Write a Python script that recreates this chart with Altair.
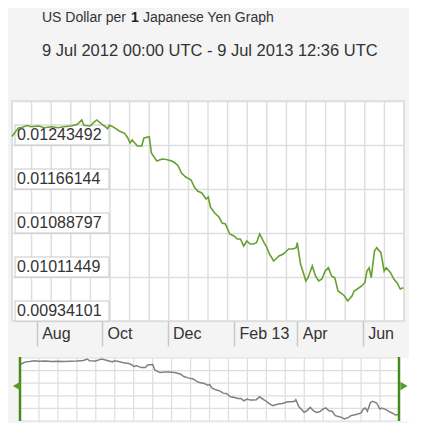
import altair as alt
import pandas as pd

# ---------------- text ----------------
title_prefix = "US Dollar per"
title_bold = "1"
title_suffix = "Japanese Yen Graph"
subtitle = "9 Jul 2012 00:00 UTC - 9 Jul 2013 12:36 UTC"

# ---------------- data ----------------
dates = [
    "2012-07-09", "2012-07-12", "2012-07-15", "2012-07-18", "2012-07-23", "2012-07-27",
    "2012-08-03", "2012-08-08", "2012-08-15", "2012-08-21", "2012-08-26", "2012-09-02",
    "2012-09-08", "2012-09-12", "2012-09-14", "2012-09-20", "2012-09-23", "2012-09-26",
    "2012-10-01", "2012-10-04", "2012-10-06", "2012-10-08", "2012-10-11", "2012-10-17",
    "2012-10-22", "2012-10-25", "2012-10-27", "2012-10-29", "2012-11-03", "2012-11-07",
    "2012-11-09", "2012-11-14", "2012-11-16", "2012-11-21", "2012-11-26", "2012-11-30",
    "2012-12-05", "2012-12-08", "2012-12-11", "2012-12-14", "2012-12-18", "2012-12-23",
    "2012-12-26", "2012-12-29", "2013-01-02", "2013-01-06", "2013-01-08", "2013-01-10",
    "2013-01-14", "2013-01-18", "2013-01-21", "2013-01-24", "2013-01-28", "2013-02-01",
    "2013-02-04", "2013-02-07", "2013-02-10", "2013-02-13", "2013-02-16", "2013-02-19",
    "2013-02-22", "2013-02-25", "2013-03-01", "2013-03-03", "2013-03-06", "2013-03-10",
    "2013-03-12", "2013-03-15", "2013-03-19", "2013-03-22", "2013-03-24", "2013-03-28",
    "2013-03-31", "2013-04-01", "2013-04-04", "2013-04-07", "2013-04-09", "2013-04-11",
    "2013-04-15", "2013-04-18", "2013-04-21", "2013-04-24", "2013-04-27", "2013-04-30",
    "2013-05-03", "2013-05-06", "2013-05-09", "2013-05-13", "2013-05-15", "2013-05-18",
    "2013-05-22", "2013-05-24", "2013-05-27", "2013-05-31", "2013-06-03", "2013-06-05",
    "2013-06-07", "2013-06-09", "2013-06-12", "2013-06-14", "2013-06-18", "2013-06-21",
    "2013-06-23", "2013-06-27", "2013-06-30", "2013-07-03", "2013-07-06", "2013-07-09",
]
rates = [
    0.0125844, 0.0126635, 0.0127338, 0.0127426, 0.0127777, 0.0127566,
    0.0127689, 0.0127391, 0.0127566, 0.0127391, 0.0127566, 0.0127689,
    0.0127988, 0.0128744, 0.0127813, 0.0127689, 0.0128270, 0.0128744,
    0.0127988, 0.0127566, 0.0127215, 0.0127813, 0.0127566, 0.0126810,
    0.0126406, 0.0125580, 0.0124701, 0.0125228, 0.0124173, 0.0124173,
    0.0125580, 0.0125808, 0.0122943, 0.0121536, 0.0121888, 0.0121800,
    0.0121536, 0.0121185, 0.0120657, 0.0119427, 0.0118724, 0.0118196,
    0.0116966, 0.0116262, 0.0115911, 0.0114856, 0.0115208, 0.0113450,
    0.0112395, 0.0111692, 0.0110637, 0.0110461, 0.0108703, 0.0108351,
    0.0107824, 0.0107824, 0.0106593, 0.0107472, 0.0106945, 0.0106945,
    0.0107174, 0.0108703, 0.0107174, 0.0106593, 0.0105187, 0.0103956,
    0.0104308, 0.0104835, 0.0105187, 0.0105714, 0.0106066, 0.0106066,
    0.0106295, 0.0107174, 0.0103429, 0.0101671, 0.0100440, 0.0101021,
    0.0103077, 0.0101319, 0.0100440, 0.0100792, 0.0102198, 0.0102778,
    0.0101319, 0.0101021, 0.0098682, 0.0098155, 0.0097803, 0.0096924,
    0.0097803, 0.0098682, 0.0099034, 0.0099561, 0.0100141, 0.0102198,
    0.0102778, 0.0101021, 0.0105714, 0.0106295, 0.0105416, 0.0102198,
    0.0102778, 0.0101899, 0.0100792, 0.0100141, 0.0099034, 0.0099262,
]
y_ticks = [0.00934101, 0.01011449, 0.01088797, 0.01166144, 0.01243492]
y_top = 0.01320840
x_ticks = ["2012-08-01", "2012-10-01", "2012-12-01", "2013-02-01", "2013-04-01", "2013-06-01"]
x_start = "2012-07-09T00:00:00"
x_end = "2013-07-09T12:36:00"


def ms(s):
    return int(pd.Timestamp(s, tz="UTC").value // 10**6)


# ---------------- layout / style ----------------
W, H = 392, 220
FONT = "Liberation Sans"
TEXT = "#333333"
GRID = "#dedede"
GREEN = "#67a030"
DKGREEN = "#4a8a1c"
NAV_TOP, NAV_BOT = 257, 320
NAV_L, NAV_R, NAV_BG_R = 8, 387, 397

df = pd.DataFrame({"date": dates, "rate": rates})
tick_df = pd.DataFrame({"v": y_ticks})
grid_df = pd.DataFrame({"i": list(range(21))})
hgrid_df = pd.DataFrame({"j": list(range(6))})
one = pd.DataFrame({"k": [0]})

x_dom = [ms(x_start), ms(x_end)]
y_dom = [y_ticks[0], y_top]
box_h = (y_top - y_ticks[0]) / H * 20

yscale = alt.Scale(domain=y_dom, nice=False, zero=False)

vgrid = alt.Chart(grid_df).mark_rule(color=GRID, strokeWidth=1.5).encode(
    x=alt.X("i:Q", scale=alt.Scale(domain=[0, 20], nice=False, zero=False), axis=None),
    y=alt.value(0),
    y2=alt.value(H),
)

boxes = (
    alt.Chart(tick_df)
    .transform_calculate(top=f"datum.v + {box_h}")
    .mark_rect(fill="white", stroke="#c8c8c8", strokeWidth=1)
    .encode(
        x=alt.value(3),
        x2=alt.value(97),
        y=alt.Y("v:Q", scale=yscale, axis=None),
        y2="top:Q",
    )
)

labels = alt.Chart(tick_df).mark_text(
    align="left", baseline="middle", dy=-10, fontSize=16, font=FONT, color=TEXT
).encode(
    x=alt.value(5),
    y=alt.Y("v:Q", scale=yscale, axis=None),
    text=alt.Text("v:Q", format=".8f"),
)

line = alt.Chart(df).mark_line(color=GREEN, strokeWidth=1.6).encode(
    x=alt.X(
        "date:T",
        scale=alt.Scale(type="utc", domain=x_dom, nice=False),
        axis=alt.Axis(
            values=[ms(t) for t in x_ticks],
            labelExpr="utcFormat(datum.value, utcmonth(datum.value) == 1 ? '%b %y' : '%b')",
            title=None,
            grid=False,
            domain=False,
            tickSize=25,
            tickColor="#c8c8c8",
            tickWidth=1.5,
            labelAlign="left",
            labelBaseline="middle",
            labelPadding=-13,
            labelOffset=5,
            labelFontSize=16,
            labelFont=FONT,
            labelColor=TEXT,
            labelFlush=False,
            labelOverlap=False,
        ),
    ),
    y=alt.Y(
        "rate:Q",
        scale=yscale,
        axis=alt.Axis(
            values=y_ticks + [y_top],
            labels=False,
            ticks=False,
            domain=False,
            grid=True,
            gridColor=GRID,
            gridWidth=1.5,
            title=None,
        ),
    ),
)

# ---------------- navigator ----------------
nav_bg = alt.Chart(one).mark_rect(fill="white").encode(
    x=alt.value(NAV_L), x2=alt.value(NAV_BG_R), y=alt.value(NAV_TOP), y2=alt.value(NAV_BOT)
)
nav_vgrid = alt.Chart(grid_df).mark_rule(color=GRID, strokeWidth=1.2).encode(
    x=alt.X("i:Q", scale=alt.Scale(domain=[0, 20], range=[NAV_L, NAV_R], nice=False, zero=False), axis=None),
    y=alt.value(NAV_TOP),
    y2=alt.value(NAV_BOT),
)
nav_hgrid = alt.Chart(hgrid_df).mark_rule(color=GRID, strokeWidth=1.2).encode(
    y=alt.Y("j:Q", scale=alt.Scale(domain=[0, 5], range=[NAV_TOP, NAV_BOT], nice=False, zero=False), axis=None),
    x=alt.value(NAV_L),
    x2=alt.value(NAV_R),
)
nav_line = alt.Chart(df).mark_line(color="#808080", strokeWidth=1.5).encode(
    x=alt.X("date:T", scale=alt.Scale(type="utc", domain=x_dom, range=[NAV_L, NAV_R], nice=False), axis=None),
    y=alt.Y("rate:Q", scale=alt.Scale(zero=False, nice=False, range=[NAV_BOT - 2, NAV_TOP + 1]), axis=None),
)
handle_l = alt.Chart(one).mark_rule(color=DKGREEN, strokeWidth=2.5).encode(
    x=alt.value(NAV_L), y=alt.value(NAV_TOP - 1), y2=alt.value(NAV_BOT)
)
handle_r = alt.Chart(one).mark_rule(color=DKGREEN, strokeWidth=2.5).encode(
    x=alt.value(NAV_R), y=alt.value(NAV_TOP - 1), y2=alt.value(NAV_BOT)
)
tri_l = alt.Chart(one).mark_point(shape="triangle-left", filled=True, size=70, color="#5a9a2a", opacity=1).encode(
    x=alt.value(4.5), y=alt.value(285)
)
tri_r = alt.Chart(one).mark_point(shape="triangle-right", filled=True, size=70, color="#5a9a2a", opacity=1).encode(
    x=alt.value(NAV_R + 5), y=alt.value(285)
)

# ---------------- titles ----------------
t1 = alt.Chart(one).mark_text(text=title_prefix, align="left", baseline="alphabetic",
                              fontSize=14, font=FONT, color=TEXT).encode(x=alt.value(30), y=alt.value(-79))
t2 = alt.Chart(one).mark_text(text=title_bold, align="left", baseline="alphabetic",
                              fontSize=14, fontWeight="bold", font=FONT, color="#222222").encode(x=alt.value(119), y=alt.value(-79))
t3 = alt.Chart(one).mark_text(text=title_suffix, align="left", baseline="alphabetic",
                              fontSize=14, font=FONT, color=TEXT).encode(x=alt.value(131), y=alt.value(-79))
t4 = alt.Chart(one).mark_text(text=subtitle, align="left", baseline="alphabetic",
                              fontSize=16.5, font=FONT, color=TEXT).encode(x=alt.value(30), y=alt.value(-45))

chart = (
    alt.layer(
        vgrid, boxes, labels, line,
        nav_bg, nav_vgrid, nav_hgrid, nav_line, handle_l, handle_r, tri_l, tri_r,
        t1, t2, t3, t4,
    )
    .resolve_scale(x="independent", y="independent")
    .properties(width=W, height=H, padding={"top": 3, "left": 0, "right": 0, "bottom": 0},
                background="#f4f4f4")
    .configure_view(fill="white", stroke=GRID, strokeWidth=1.5)
)

chart.save("out.html", embed_options={"renderer": "svg", "actions": False})
